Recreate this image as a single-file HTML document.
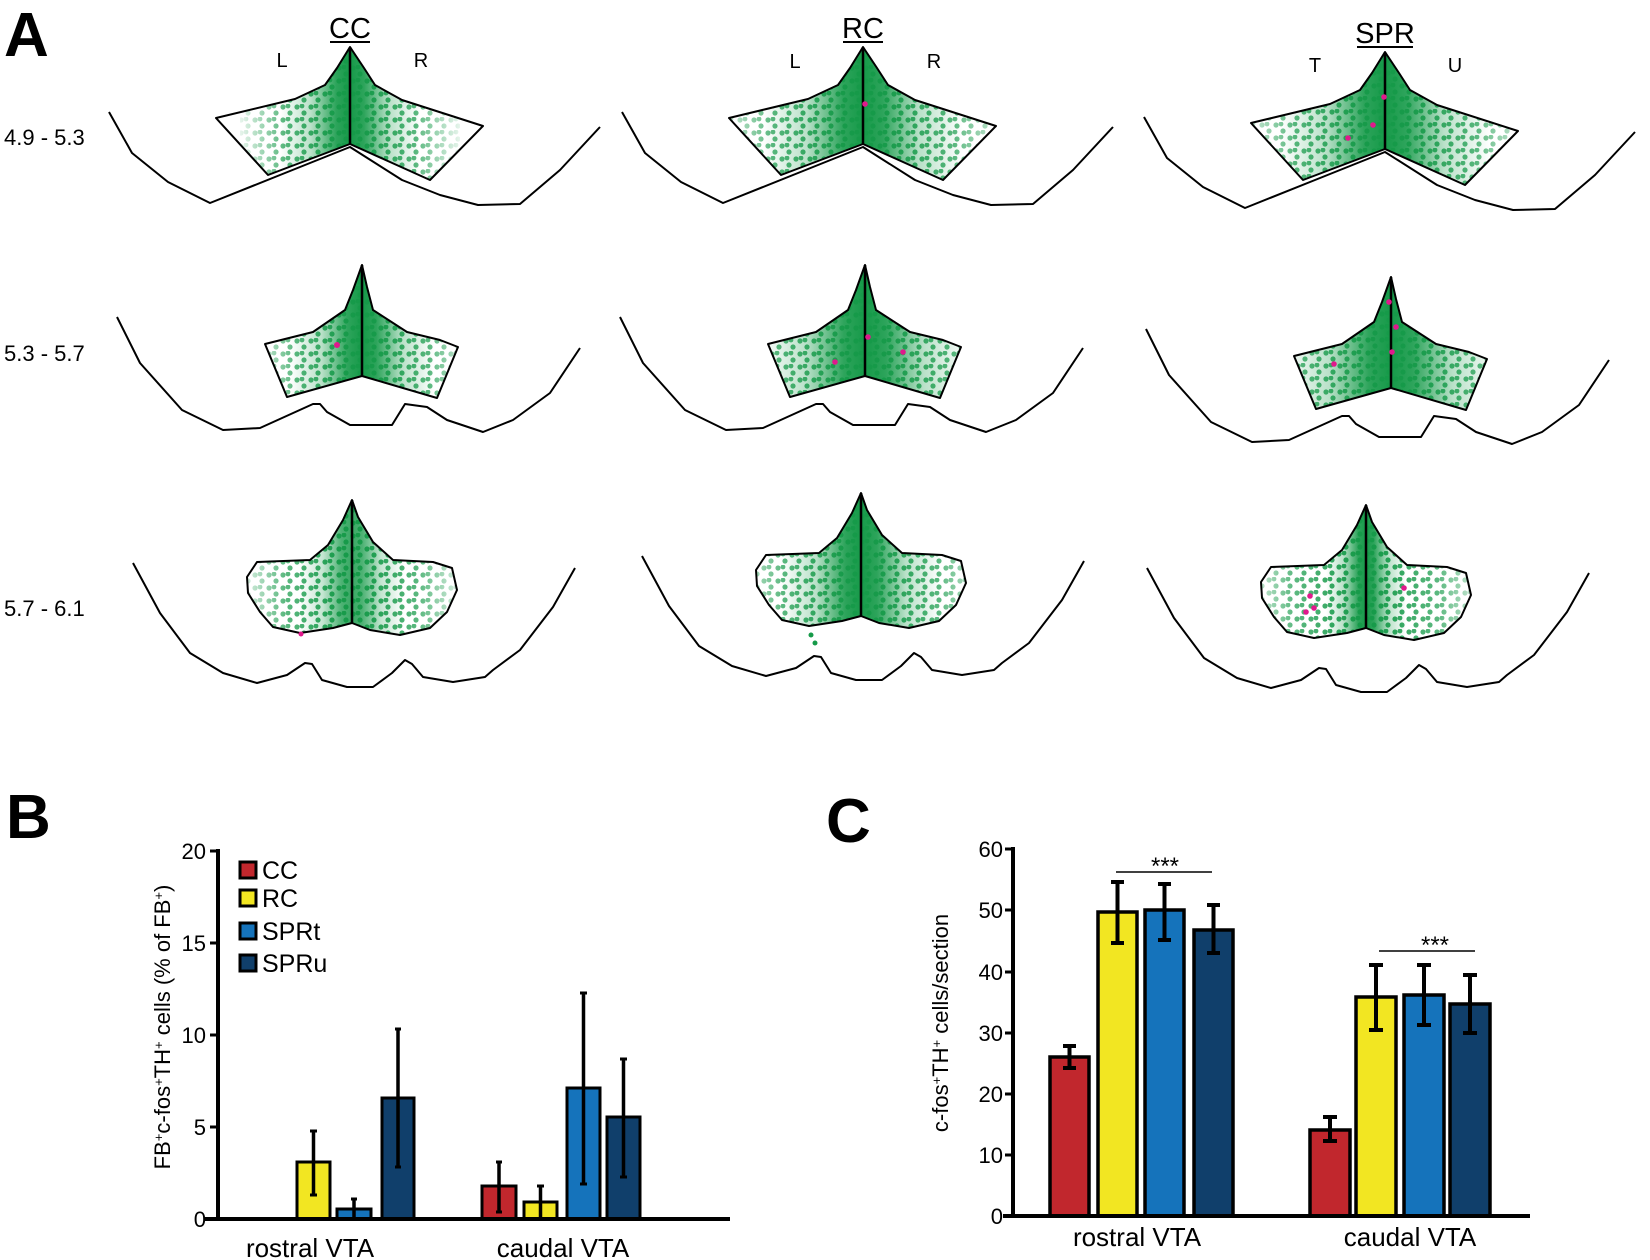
<!DOCTYPE html>
<html><head><meta charset="utf-8"><style>
html,body{margin:0;padding:0;background:#fff;}
svg{display:block;font-family:"Liberation Sans",sans-serif;}
</style></head><body>
<svg width="1650" height="1260" viewBox="0 0 1650 1260" xmlns="http://www.w3.org/2000/svg">
<defs>
<linearGradient id="gd" x1="0" y1="0" x2="1" y2="0">
<stop offset="0" stop-color="#169a49" stop-opacity="0"/>
<stop offset="0.22" stop-color="#169a49" stop-opacity="0.3"/>
<stop offset="0.4" stop-color="#169a49" stop-opacity="0.9"/>
<stop offset="0.5" stop-color="#169a49" stop-opacity="1"/>
<stop offset="0.6" stop-color="#169a49" stop-opacity="0.9"/>
<stop offset="0.78" stop-color="#169a49" stop-opacity="0.3"/>
<stop offset="1" stop-color="#169a49" stop-opacity="0"/>
</linearGradient>
<linearGradient id="gw" x1="0" y1="0" x2="1" y2="0">
<stop offset="0" stop-color="#fff" stop-opacity="0.1"/>
<stop offset="0.2" stop-color="#fff" stop-opacity="0.7"/>
<stop offset="0.5" stop-color="#fff" stop-opacity="1"/>
<stop offset="0.8" stop-color="#fff" stop-opacity="0.7"/>
<stop offset="1" stop-color="#fff" stop-opacity="0.1"/>
</linearGradient>
<pattern id="pd" patternUnits="userSpaceOnUse" width="14" height="13">
<circle cx="3" cy="3" r="2.6" fill="#169a49"/><circle cx="10" cy="9" r="2.6" fill="#169a49"/><circle cx="8" cy="2" r="2.4" fill="#169a49"/>
</pattern>
<mask id="mw" maskContentUnits="objectBoundingBox"><rect x="0" y="0" width="1" height="1" fill="url(#gw)"/></mask>
<clipPath id="c0"><polygon points="216,118 295,99 325,85 337,68 350,47 364,68 375,85 402,100 483,126 430,180 350,144 268,175"/></clipPath>
<clipPath id="c1"><polygon points="265,344 313,332 345,310 353,290 362,265 367,287 373,310 407,332 440,340 458,347 437,398 362,376 287,397"/></clipPath>
<clipPath id="c2"><polygon points="257,562 310,560 328,545 343,520 352,500 358,517 373,542 393,560 433,562 452,568 457,590 447,612 430,628 400,635 370,630 352,623 333,628 300,633 273,627 260,612 248,593 247,577"/></clipPath>
</defs>
<rect width="1650" height="1260" fill="#fff"/>
<text x="4" y="56" font-size="62" font-weight="bold">A</text>
<text x="6" y="838" font-size="62" font-weight="bold">B</text>
<text x="826" y="842" font-size="62" font-weight="bold">C</text>

<g font-size="22" fill="#000">
<text x="4" y="145">4.9 - 5.3</text>
<text x="4" y="361">5.3 - 5.7</text>
<text x="4" y="616">5.7 - 6.1</text>
</g>
<g font-size="29" text-anchor="middle">
<text x="350" y="38">CC</text><line x1="330" y1="42" x2="370" y2="42" stroke="#000" stroke-width="2"/>
<text x="863" y="38">RC</text><line x1="843" y1="42" x2="883" y2="42" stroke="#000" stroke-width="2"/>
<text x="1385" y="43">SPR</text><line x1="1357" y1="47" x2="1413" y2="47" stroke="#000" stroke-width="2"/>
</g>
<g font-size="20" text-anchor="middle">
<text x="282" y="67">L</text><text x="421" y="67">R</text>
<text x="795" y="68">L</text><text x="934" y="68">R</text>
<text x="1315" y="72">T</text><text x="1455" y="72">U</text>
</g>

<!-- ROW 0 -->
<g>
<g clip-path="url(#c0)">
<rect x="240" y="40" width="220" height="150" fill="url(#pd)" mask="url(#mw)"/>
<rect x="280" y="40" width="140" height="150" fill="url(#gd)"/>
</g>
<g fill="none" stroke="#000" stroke-width="2" stroke-linejoin="round">
<polyline points="109,112 132,153 168,182 210,203 280,175 350,147 402,180 440,195 478,205 520,204 560,170 600,127"/>
<polygon points="216,118 295,99 325,85 337,68 350,47 364,68 375,85 402,100 483,126 430,180 350,144 268,175"/>
<line x1="350" y1="47" x2="350" y2="144" stroke-width="2.5"/>
</g>
</g>
<g transform="translate(513,0)">
<g clip-path="url(#c0)">
<rect x="200" y="40" width="300" height="150" fill="url(#pd)" mask="url(#mw)"/>
<rect x="250" y="40" width="200" height="150" fill="url(#gd)"/>
</g>
<g fill="none" stroke="#000" stroke-width="2" stroke-linejoin="round">
<polyline points="109,112 132,153 168,182 210,203 280,175 350,147 402,180 440,195 478,205 520,204 560,170 600,127"/>
<polygon points="216,118 295,99 325,85 337,68 350,47 364,68 375,85 402,100 483,126 430,180 350,144 268,175"/>
<line x1="350" y1="47" x2="350" y2="144" stroke-width="2.5"/>
</g>
<circle cx="352" cy="104" r="2.8" fill="#e0198c"/>
</g>
<g transform="translate(1035,5)">
<g clip-path="url(#c0)">
<rect x="200" y="40" width="300" height="150" fill="url(#pd)" mask="url(#mw)"/>
<rect x="245" y="40" width="210" height="150" fill="url(#gd)"/>
</g>
<g fill="none" stroke="#000" stroke-width="2" stroke-linejoin="round">
<polyline points="109,112 132,153 168,182 210,203 280,175 350,147 402,180 440,195 478,205 520,204 560,170 600,127"/>
<polygon points="216,118 295,99 325,85 337,68 350,47 364,68 375,85 402,100 483,126 430,180 350,144 268,175"/>
<line x1="350" y1="47" x2="350" y2="144" stroke-width="2.5"/>
</g>
<circle cx="313" cy="133" r="2.8" fill="#e0198c"/><circle cx="338" cy="120" r="2.8" fill="#e0198c"/><circle cx="349" cy="92" r="2.8" fill="#e0198c"/>
</g>

<!-- ROW 1 -->
<g>
<g clip-path="url(#c1)">
<rect x="250" y="260" width="224" height="145" fill="url(#pd)" mask="url(#mw)"/>
<rect x="290" y="260" width="144" height="145" fill="url(#gd)"/>
</g>
<g fill="none" stroke="#000" stroke-width="2" stroke-linejoin="round">
<polyline points="117,317 140,363 182,410 223,430 260,428 313,404 320,404 327,412 350,425 392,425 405,404 427,407 447,420 483,432 513,420 550,393 580,348"/>
<polygon points="265,344 313,332 345,310 353,290 362,265 367,287 373,310 407,332 440,340 458,347 437,398 362,376 287,397"/>
<line x1="362" y1="265" x2="362" y2="376" stroke-width="2.5"/>
</g>
<circle cx="337" cy="345" r="3" fill="#e0198c"/>
</g>
<g transform="translate(503,0)">
<g clip-path="url(#c1)">
<rect x="212" y="260" width="300" height="145" fill="url(#pd)" mask="url(#mw)"/>
<rect x="257" y="260" width="210" height="145" fill="url(#gd)"/>
</g>
<g fill="none" stroke="#000" stroke-width="2" stroke-linejoin="round">
<polyline points="117,317 140,363 182,410 223,430 260,428 313,404 320,404 327,412 350,425 392,425 405,404 427,407 447,420 483,432 513,420 550,393 580,348"/>
<polygon points="265,344 313,332 345,310 353,290 362,265 367,287 373,310 407,332 440,340 458,347 437,398 362,376 287,397"/>
<line x1="362" y1="265" x2="362" y2="376" stroke-width="2.5"/>
</g>
<circle cx="332" cy="362" r="2.8" fill="#e0198c"/><circle cx="365" cy="337" r="2.8" fill="#e0198c"/><circle cx="400" cy="352" r="2.8" fill="#e0198c"/>
</g>
<g transform="translate(1029,12)">
<g clip-path="url(#c1)">
<rect x="212" y="260" width="300" height="145" fill="url(#pd)" mask="url(#mw)"/>
<rect x="252" y="260" width="220" height="145" fill="url(#gd)"/>
</g>
<g fill="none" stroke="#000" stroke-width="2" stroke-linejoin="round">
<polyline points="117,317 140,363 182,410 223,430 260,428 313,404 320,404 327,412 350,425 392,425 405,404 427,407 447,420 483,432 513,420 550,393 580,348"/>
<polygon points="265,344 313,332 345,310 353,290 362,265 367,287 373,310 407,332 440,340 458,347 437,398 362,376 287,397"/>
<line x1="362" y1="265" x2="362" y2="376" stroke-width="2.5"/>
</g>
<circle cx="305" cy="352" r="2.8" fill="#e0198c"/><circle cx="360" cy="290" r="2.8" fill="#e0198c"/><circle cx="367" cy="315" r="2.8" fill="#e0198c"/><circle cx="363" cy="340" r="2.8" fill="#e0198c"/>
</g>

<!-- ROW 2 -->
<g>
<g clip-path="url(#c2)">
<rect x="240" y="495" width="224" height="150" fill="url(#pd)" mask="url(#mw)"/>
<rect x="300" y="495" width="104" height="150" fill="url(#gd)" opacity="0.85"/>
</g>
<g fill="none" stroke="#000" stroke-width="2" stroke-linejoin="round">
<polyline points="133,563 160,613 190,653 223,673 257,683 287,675 305,663 312,664 322,680 347,687 373,687 392,673 405,660 412,664 423,677 453,682 485,677 493,670 520,650 553,607 575,568"/>
<polygon points="257,562 310,560 328,545 343,520 352,500 358,517 373,542 393,560 433,562 452,568 457,590 447,612 430,628 400,635 370,630 352,623 333,628 300,633 273,627 260,612 248,593 247,577"/>
<line x1="352" y1="500" x2="352" y2="623" stroke-width="2.5"/>
</g>
<circle cx="301" cy="634" r="2.5" fill="#e0198c"/>
</g>
<g transform="translate(509,-7)">
<g clip-path="url(#c2)">
<rect x="222" y="495" width="260" height="150" fill="url(#pd)" mask="url(#mw)"/>
<rect x="272" y="495" width="160" height="150" fill="url(#gd)"/>
</g>
<g fill="none" stroke="#000" stroke-width="2" stroke-linejoin="round">
<polyline points="133,563 160,613 190,653 223,673 257,683 287,675 305,663 312,664 322,680 347,687 373,687 392,673 405,660 412,664 423,677 453,682 485,677 493,670 520,650 553,607 575,568"/>
<polygon points="257,562 310,560 328,545 343,520 352,500 358,517 373,542 393,560 433,562 452,568 457,590 447,612 430,628 400,635 370,630 352,623 333,628 300,633 273,627 260,612 248,593 247,577"/>
<line x1="352" y1="500" x2="352" y2="623" stroke-width="2.5"/>
</g>
<circle cx="302" cy="642" r="2.5" fill="#169a49"/><circle cx="306" cy="650" r="2.5" fill="#169a49"/>
</g>
<g transform="translate(1014,5)">
<g clip-path="url(#c2)">
<rect x="232" y="495" width="240" height="150" fill="url(#pd)" mask="url(#mw)"/>
<rect x="312" y="495" width="80" height="150" fill="url(#gd)"/>
</g>
<g fill="none" stroke="#000" stroke-width="2" stroke-linejoin="round">
<polyline points="133,563 160,613 190,653 223,673 257,683 287,675 305,663 312,664 322,680 347,687 373,687 392,673 405,660 412,664 423,677 453,682 485,677 493,670 520,650 553,607 575,568"/>
<polygon points="257,562 310,560 328,545 343,520 352,500 358,517 373,542 393,560 433,562 452,568 457,590 447,612 430,628 400,635 370,630 352,623 333,628 300,633 273,627 260,612 248,593 247,577"/>
<line x1="352" y1="500" x2="352" y2="623" stroke-width="2.5"/>
</g>
<circle cx="296" cy="591" r="2.8" fill="#e0198c"/><circle cx="300" cy="603" r="2.8" fill="#e0198c"/><circle cx="292" cy="607" r="2.8" fill="#e0198c"/><circle cx="390" cy="583" r="2.8" fill="#e0198c"/>
</g>

<!-- Panel B -->
<g font-size="22" text-anchor="end">
<text x="206" y="859">20</text><text x="206" y="951">15</text><text x="206" y="1043">10</text><text x="206" y="1135">5</text><text x="206" y="1227">0</text>
</g>
<g stroke="#000" stroke-width="3">
<line x1="210" y1="851" x2="218" y2="851"/><line x1="210" y1="943" x2="218" y2="943"/><line x1="210" y1="1035" x2="218" y2="1035"/><line x1="210" y1="1127" x2="218" y2="1127"/>
</g>
<g stroke="#000" stroke-width="3">
<rect x="297" y="1162" width="33" height="57" fill="#f2e622"/>
<rect x="337" y="1209" width="34" height="10" fill="#1573bb"/>
<rect x="382" y="1098" width="32" height="121" fill="#103f6b"/>
<rect x="482" y="1186" width="34" height="33" fill="#c1272d"/>
<rect x="524" y="1202" width="33" height="17" fill="#f2e622"/>
<rect x="567" y="1088" width="33" height="131" fill="#1573bb"/>
<rect x="607" y="1117" width="33" height="102" fill="#103f6b"/>
</g>
<g stroke="#000" stroke-width="3.5">
<line x1="313.5" y1="1195" x2="313.5" y2="1131"/><line x1="354" y1="1219" x2="354" y2="1199"/>
<line x1="398" y1="1167" x2="398" y2="1029"/><line x1="499" y1="1212" x2="499" y2="1162"/>
<line x1="540.5" y1="1219" x2="540.5" y2="1186"/><line x1="583.5" y1="1184" x2="583.5" y2="993"/>
<line x1="623.5" y1="1177" x2="623.5" y2="1059"/>
</g>
<g stroke="#000" stroke-width="3">
<line x1="310" y1="1131" x2="317" y2="1131"/><line x1="310" y1="1195" x2="317" y2="1195"/>
<line x1="351" y1="1199" x2="357" y2="1199"/><line x1="395" y1="1029" x2="401" y2="1029"/><line x1="395" y1="1167" x2="401" y2="1167"/>
<line x1="496" y1="1162" x2="502" y2="1162"/><line x1="496" y1="1212" x2="502" y2="1212"/><line x1="537" y1="1186" x2="544" y2="1186"/>
<line x1="580" y1="993" x2="587" y2="993"/><line x1="580" y1="1184" x2="587" y2="1184"/>
<line x1="620" y1="1059" x2="627" y2="1059"/><line x1="620" y1="1177" x2="627" y2="1177"/>
</g>
<line x1="218" y1="849" x2="218" y2="1221" stroke="#000" stroke-width="4"/>
<line x1="205" y1="1219" x2="730" y2="1219" stroke="#000" stroke-width="4"/>
<text transform="translate(170,1027) rotate(-90)" font-size="22" text-anchor="middle">FB<tspan baseline-shift="super" font-size="13">+</tspan>c-fos<tspan baseline-shift="super" font-size="13">+</tspan>TH<tspan baseline-shift="super" font-size="13">+</tspan>  cells (% of FB<tspan baseline-shift="super" font-size="13">+</tspan>)</text>
<g font-size="26" text-anchor="middle">
<text x="310" y="1257">rostral VTA</text><text x="563" y="1257">caudal VTA</text>
<text x="1137" y="1246">rostral VTA</text><text x="1410" y="1246">caudal VTA</text>
</g>
<g stroke="#000" stroke-width="3">
<rect x="240" y="862" width="16" height="16" fill="#c1272d"/>
<rect x="240" y="890" width="16" height="16" fill="#f2e622"/>
<rect x="240" y="923" width="16" height="16" fill="#1573bb"/>
<rect x="240" y="955" width="16" height="16" fill="#103f6b"/>
</g>
<g font-size="25">
<text x="262" y="879">CC</text><text x="262" y="907">RC</text><text x="262" y="940">SPRt</text><text x="262" y="972">SPRu</text>
</g>

<!-- Panel C -->
<g font-size="22" text-anchor="end">
<text x="1003" y="857">60</text><text x="1003" y="918">50</text><text x="1003" y="980">40</text><text x="1003" y="1041">30</text><text x="1003" y="1102">20</text><text x="1003" y="1163">10</text><text x="1003" y="1224">0</text>
</g>
<g stroke="#000" stroke-width="3">
<line x1="1005" y1="849" x2="1013" y2="849"/><line x1="1005" y1="910" x2="1013" y2="910"/><line x1="1005" y1="972" x2="1013" y2="972"/>
<line x1="1005" y1="1033" x2="1013" y2="1033"/><line x1="1005" y1="1094" x2="1013" y2="1094"/><line x1="1005" y1="1155" x2="1013" y2="1155"/>
</g>
<g stroke="#000" stroke-width="3.5">
<rect x="1050" y="1057" width="39" height="159" fill="#c1272d"/>
<rect x="1098" y="912" width="39" height="304" fill="#f2e622"/>
<rect x="1145" y="910" width="39" height="306" fill="#1573bb"/>
<rect x="1194" y="930" width="39" height="286" fill="#103f6b"/>
<rect x="1310" y="1130" width="40" height="86" fill="#c1272d"/>
<rect x="1356" y="997" width="40" height="219" fill="#f2e622"/>
<rect x="1404" y="995" width="40" height="221" fill="#1573bb"/>
<rect x="1450" y="1004" width="40" height="212" fill="#103f6b"/>
</g>
<g stroke="#000" stroke-width="4">
<line x1="1069.5" y1="1068" x2="1069.5" y2="1046"/><line x1="1063" y1="1068" x2="1076" y2="1068"/><line x1="1063" y1="1046" x2="1076" y2="1046"/>
<line x1="1117.5" y1="943" x2="1117.5" y2="882"/><line x1="1111" y1="943" x2="1124" y2="943"/><line x1="1111" y1="882" x2="1124" y2="882"/>
<line x1="1164.5" y1="940" x2="1164.5" y2="884"/><line x1="1158" y1="940" x2="1171" y2="940"/><line x1="1158" y1="884" x2="1171" y2="884"/>
<line x1="1213.5" y1="953" x2="1213.5" y2="905"/><line x1="1207" y1="953" x2="1220" y2="953"/><line x1="1207" y1="905" x2="1220" y2="905"/>
<line x1="1330" y1="1141" x2="1330" y2="1117"/><line x1="1323" y1="1141" x2="1337" y2="1141"/><line x1="1323" y1="1117" x2="1337" y2="1117"/>
<line x1="1376" y1="1030" x2="1376" y2="965"/><line x1="1369" y1="1030" x2="1383" y2="1030"/><line x1="1369" y1="965" x2="1383" y2="965"/>
<line x1="1424" y1="1025" x2="1424" y2="965"/><line x1="1417" y1="1025" x2="1431" y2="1025"/><line x1="1417" y1="965" x2="1431" y2="965"/>
<line x1="1470" y1="1033" x2="1470" y2="975"/><line x1="1463" y1="1033" x2="1477" y2="1033"/><line x1="1463" y1="975" x2="1477" y2="975"/>
</g>
<line x1="1013" y1="847" x2="1013" y2="1218" stroke="#000" stroke-width="4"/>
<line x1="1003" y1="1216" x2="1530" y2="1216" stroke="#000" stroke-width="4"/>
<text transform="translate(948,1023) rotate(-90)" font-size="22" text-anchor="middle">c-fos<tspan baseline-shift="super" font-size="13">+</tspan>TH<tspan baseline-shift="super" font-size="13">+</tspan>  cells/section</text>
<line x1="1116" y1="872" x2="1212" y2="872" stroke="#000" stroke-width="1.5"/>
<line x1="1379" y1="951" x2="1475" y2="951" stroke="#000" stroke-width="1.5"/>
<g font-size="24" text-anchor="middle"><text x="1165" y="874">***</text><text x="1435" y="953">***</text></g>
</svg>
</body></html>
